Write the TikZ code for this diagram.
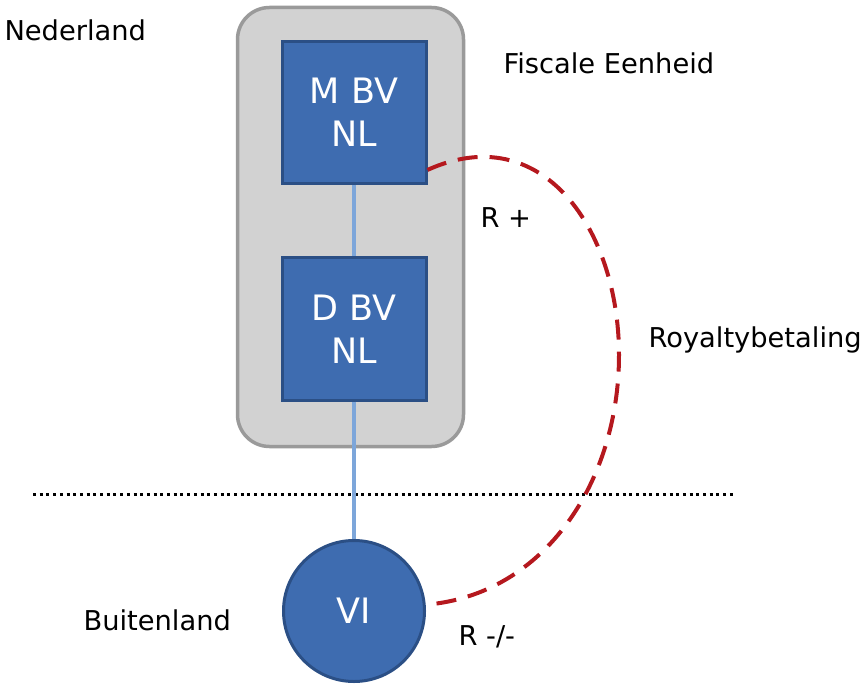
\documentclass[tikz,border=0pt]{standalone}
\usepackage{fontspec}
\setmainfont{DejaVu Sans}
\usepackage{xcolor}
\definecolor{bvblue}{HTML}{3E6CB0}
\definecolor{bvedge}{HTML}{2B4F85}
\definecolor{linkblue}{HTML}{7DA6DA}
\definecolor{fegray}{HTML}{D2D2D2}
\definecolor{feedge}{HTML}{9A9A9A}
\definecolor{royred}{HTML}{B5181E}

\begin{document}
\begin{tikzpicture}[x=1pt, y=-1pt,
  bv/.style={draw=bvedge, fill=bvblue, line width=3pt, text=white, align=center,
    minimum width=144pt, minimum height=142pt, font=\fontsize{35}{43}\selectfont},
  lbl/.style={anchor=base west, font=\fontsize{27.3}{32}\selectfont},
  link/.style={draw=linkblue, line width=3.5pt},
  royalty/.style={draw=royred, line width=4pt, dash pattern=on 20pt off 12pt}]
\useasboundingbox (0,0) rectangle (866,692);

\node[draw=feedge, fill=fegray, line width=3.5pt, rounded corners=32pt,
  minimum width=226pt, minimum height=439pt] (fe) at (350.5,227) {};

\node[bv] (mbv) at (354,112.5) {M BV\\NL};
\node[bv] (dbv) at (354,329) {D BV\\NL};
\node[bv, circle, minimum size=141pt] (vi) at (354,611) {VI};

\node[lbl] (nl) at (1,41) {Nederland};
\node[lbl] (fiscal) at (500,74) {Fiscale Eenheid};
\node[lbl] (royal) at (645,347) {Royaltybetaling};
\node[lbl] (bl) at (80,630) {Buitenland};
\node[lbl] (rplus) at (477,228) {R +};
\node[lbl] (rmin) at (455,645) {R -/-};

\coordinate (sepL) at (33,494);
\coordinate (sepR) at (735,494);
\coordinate (bend) at (619,355);

\draw[line width=3pt, dash pattern=on 3pt off 3.7pt] (sepL) -- (sepR);

\draw[link] (mbv) -- (dbv);
\draw[link] (dbv) -- (vi);

\draw[royalty] (mbv.-38) .. controls +(115,-52) and +(0,-125) .. (bend)
  .. controls +(0,125) and +(120,-10) .. (vi.5);

\end{tikzpicture}
\end{document}
